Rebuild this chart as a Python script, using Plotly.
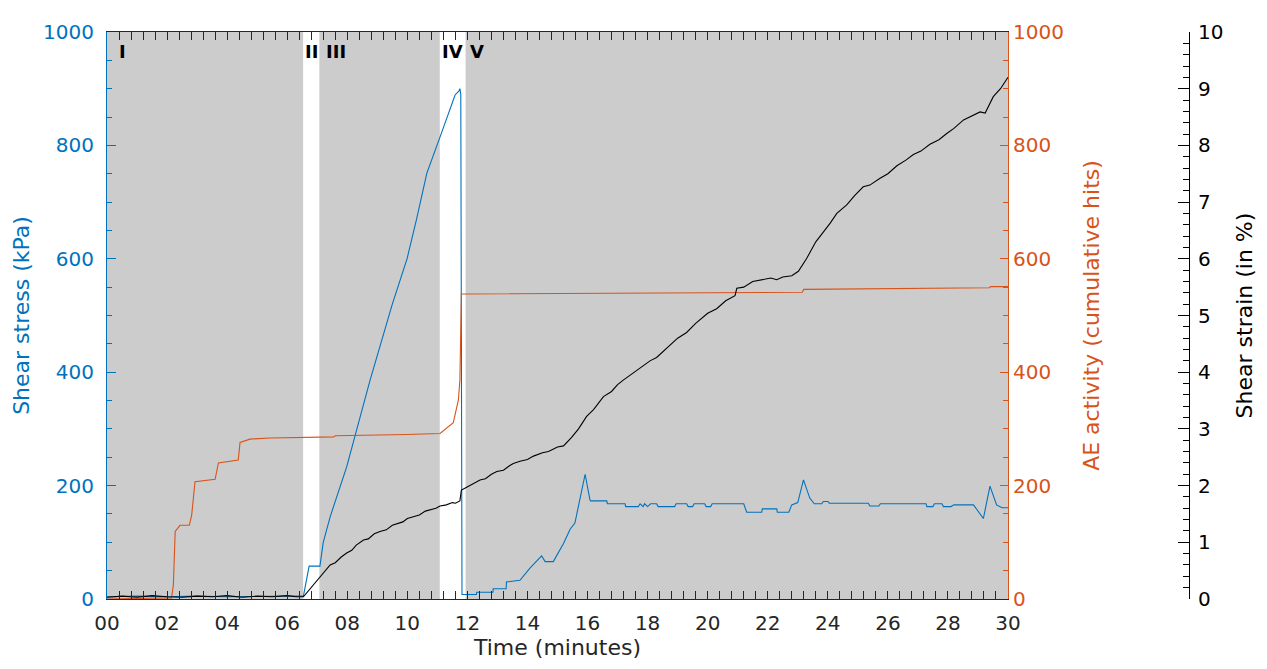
import plotly.graph_objects as go

# ---------------- data ----------------
stress_t = [0.0, 1.0, 2.0, 3.0, 4.0, 5.0, 6.0, 6.54, 6.73, 7.09, 7.2, 7.43, 7.98, 8.31, 8.76, 9.5, 9.99,
            10.3, 10.65, 11.09, 11.59, 11.72, 11.75, 11.78, 11.82, 12.0, 12.3, 12.31, 12.85, 12.86, 13.29, 13.3,
            13.75, 14.09, 14.47, 14.59, 14.86, 15.2, 15.42, 15.58, 15.75, 15.92, 16.08, 16.1, 16.64, 16.66,
            17.25, 17.27, 17.69, 17.75, 17.85, 17.9, 18.0, 18.1, 18.3, 18.35, 18.9, 18.95, 19.3, 19.35, 19.5,
            19.55, 19.9, 19.95, 20.1, 20.15, 21.2, 21.3, 21.8, 21.82, 22.3, 22.32, 22.7, 22.8, 23.0, 23.19,
            23.4, 23.55, 23.8, 23.85, 24.0, 24.05, 25.35, 25.4, 25.7, 25.75, 27.27, 27.3, 27.5, 27.55, 27.8,
            27.85, 28.1, 28.2, 28.85, 29.0, 29.18, 29.4, 29.62, 29.8, 30.0]
stress_kpa = [4, 5, 4, 5, 4, 5, 5, 5, 58, 58, 100, 145, 233, 298, 386, 520, 600,
              668, 751, 815, 889, 896, 900, 890, 8, 8, 8, 12, 12, 18, 18, 30,
              33, 55, 76, 66, 66, 98, 123, 134, 180, 220, 175, 173, 173, 168,
              168, 163, 163, 168, 163, 168, 163, 168, 168, 163, 163, 168, 168, 163, 163,
              168, 168, 163, 163, 168, 168, 153, 153, 159, 159, 153, 153, 166, 170, 210,
              178, 168, 168, 172, 172, 169, 169, 164, 164, 168, 168, 163, 163, 168, 168,
              163, 163, 166, 166, 155, 142, 199, 166, 161, 161]

ae_t = [0.0, 2.15, 2.21, 2.27, 2.43, 2.74, 2.82, 2.93, 3.6, 3.71, 4.37, 4.43, 4.76, 5.43, 7.55, 7.6,
        9.98, 11.09, 11.53, 11.7, 11.75, 11.8, 23.15, 23.2, 29.38, 29.42, 30.0]
ae_hits = [0, 2, 25, 119, 130, 130, 148, 207, 211, 240, 245, 276, 282, 284, 286, 288,
           290, 292, 311, 351, 386, 538, 541, 546, 549, 551, 551]

strain_t = [0.0, 0.5, 1.0, 1.5, 2.0, 2.5, 3.0, 3.5, 4.0, 4.5, 5.0, 5.5, 6.0, 6.3, 6.54, 6.8, 7.09,
            7.25, 7.43, 7.6, 7.8, 7.98, 8.15, 8.3, 8.54, 8.7, 8.9, 9.09, 9.3, 9.5, 9.65, 9.85, 10.0,
            10.2, 10.4, 10.6, 10.76, 10.95, 11.09, 11.3, 11.5, 11.6, 11.75, 11.8, 11.9, 12.0, 12.2,
            12.42, 12.6, 12.8, 12.98, 13.2, 13.4, 13.53, 13.75, 14.0, 14.2, 14.5, 14.7, 15.0, 15.2,
            15.47, 15.7, 15.97, 16.2, 16.53, 16.8, 17.0, 17.19, 17.5, 17.8, 18.08, 18.3, 18.6, 19.0,
            19.3, 19.6, 20.0, 20.3, 20.6, 20.91, 20.97, 21.2, 21.5, 21.86, 22.1, 22.3, 22.5, 22.8,
            23.02, 23.3, 23.6, 24.08, 24.3, 24.63, 24.9, 25.18, 25.4, 25.74, 26.0, 26.3, 26.6, 26.85,
            27.1, 27.4, 27.7, 27.96, 28.2, 28.52, 28.8, 29.07, 29.24, 29.51, 29.75, 30.0]
strain_pct = [0.03, 0.05, 0.03, 0.06, 0.04, 0.03, 0.05, 0.04, 0.06, 0.03, 0.05, 0.04, 0.06, 0.04, 0.04,
              0.2, 0.39, 0.47, 0.6, 0.64, 0.74, 0.81, 0.86, 0.95, 1.04, 1.06, 1.15, 1.19, 1.22, 1.3,
              1.33, 1.36, 1.42, 1.45, 1.48, 1.55, 1.57, 1.6, 1.64, 1.66, 1.70, 1.69, 1.73, 1.92, 1.95,
              1.98, 2.03, 2.10, 2.12, 2.2, 2.25, 2.27, 2.35, 2.39, 2.43, 2.46, 2.52, 2.58, 2.6, 2.68,
              2.7, 2.85, 3.0, 3.22, 3.34, 3.57, 3.66, 3.78, 3.86, 3.98, 4.1, 4.2, 4.26, 4.4, 4.6,
              4.7, 4.86, 5.04, 5.12, 5.26, 5.35, 5.48, 5.5, 5.6, 5.64, 5.66, 5.63, 5.68, 5.7,
              5.78, 6.01, 6.3, 6.63, 6.8, 6.95, 7.12, 7.27, 7.3, 7.42, 7.5, 7.64, 7.74, 7.84,
              7.9, 8.02, 8.1, 8.21, 8.3, 8.45, 8.52, 8.59, 8.57, 8.86, 9.0, 9.2]

phase_names = ["I", "II", "III", "IV", "V"]
phase_label_t = [0.52, 6.8, 7.63, 11.5, 12.31]
shaded_start = [0.0, 7.07, 11.94]
shaded_end = [6.53, 11.08, 30.0]

x_ticks = list(range(0, 31, 2))
x_tick_text = ["%02d" % v for v in x_ticks]

# ---------------- figure ----------------
BLUE = "#0072BD"
ORANGE = "#D95319"
FONT = "DejaVu Sans"

fig = go.Figure()
fig.add_trace(go.Scatter(x=stress_t, y=stress_kpa, mode="lines", line=dict(color=BLUE, width=1.1),
                         yaxis="y", name="Shear stress"))
fig.add_trace(go.Scatter(x=ae_t, y=ae_hits, mode="lines", line=dict(color=ORANGE, width=1.1),
                         yaxis="y2", name="AE activity"))
fig.add_trace(go.Scatter(x=strain_t, y=strain_pct, mode="lines", line=dict(color="black", width=1.1),
                         yaxis="y3", name="Shear strain"))

for s, e in zip(shaded_start, shaded_end):
    fig.add_shape(type="rect", xref="x", yref="y", x0=s, x1=e, y0=0, y1=1000,
                  fillcolor="#CCCCCC", line=dict(width=0), layer="below")

for name, t in zip(phase_names, phase_label_t):
    fig.add_annotation(x=t, y=965, xref="x", yref="y", text="<b>%s</b>" % name, showarrow=False,
                       font=dict(family=FONT, size=18, color="black"), xanchor="center", yanchor="middle")

W, H = 1267, 669
L, R, T, B = 107, 60, 32, 70
pw = W - L - R
x_end = (1008 - L) / pw
y3_pos = (1189 - L) / pw

fig.update_layout(
    width=W, height=H, margin=dict(l=L, r=R, t=T, b=B, autoexpand=False),
    paper_bgcolor="white", plot_bgcolor="white", showlegend=False,
    font=dict(family=FONT, size=20, color="black"),
    xaxis=dict(domain=[0, x_end], range=[0, 30], showgrid=False, zeroline=False,
               showline=True, linecolor="#262626", linewidth=1, mirror="allticks",
               ticks="inside", ticklen=8, tickcolor="#262626",
               tickvals=x_ticks, ticktext=x_tick_text,
               minor=dict(dtick=0.4, tick0=0, ticks="inside", ticklen=4, tickcolor="#262626"),
               tickfont=dict(size=20, color="#262626"), ticklabelstandoff=6,
               title=dict(text="Time (minutes)", font=dict(size=22, color="#262626"), standoff=2),
               automargin=False),
    yaxis=dict(range=[0, 1000], showgrid=False, zeroline=False, showline=True, linecolor=BLUE,
               linewidth=1, ticks="inside", ticklen=9, tickcolor=BLUE, dtick=200,
               minor=dict(dtick=50, ticks="inside", ticklen=5, tickcolor=BLUE),
               tickfont=dict(size=20, color=BLUE), ticklabelstandoff=8,
               title=dict(text="Shear stress (kPa)", font=dict(size=22, color=BLUE), standoff=7),
               automargin=False),
    yaxis2=dict(range=[0, 1000], overlaying="y", side="right", anchor="x", showgrid=False,
                zeroline=False, showline=True, linecolor=ORANGE, linewidth=1, ticks="inside",
                ticklen=8, tickcolor=ORANGE, dtick=200,
                minor=dict(dtick=50, ticks="inside", ticklen=5, tickcolor=ORANGE),
                tickfont=dict(size=20, color=ORANGE), ticklabelstandoff=0,
                title=dict(text="AE activity (cumulative hits)", font=dict(size=22, color=ORANGE), standoff=20),
                automargin=False),
    yaxis3=dict(range=[0, 10], overlaying="y", side="right", anchor="free", position=y3_pos,
                showgrid=False, zeroline=False, showline=True, linecolor="black", linewidth=1,
                ticks="inside", ticklen=11, tickcolor="black", dtick=1,
                minor=dict(dtick=0.2, ticks="inside", ticklen=6, tickcolor="black"),
                tickfont=dict(size=20, color="black"), ticklabelstandoff=4,
                title=dict(text="Shear strain (in %)", font=dict(size=22, color="black"), standoff=14),
                automargin=False),
)

fig.write_html("out.html", config={"displayModeBar": False},
               post_script="document.body.style.margin='0';document.body.style.overflow='hidden';")
